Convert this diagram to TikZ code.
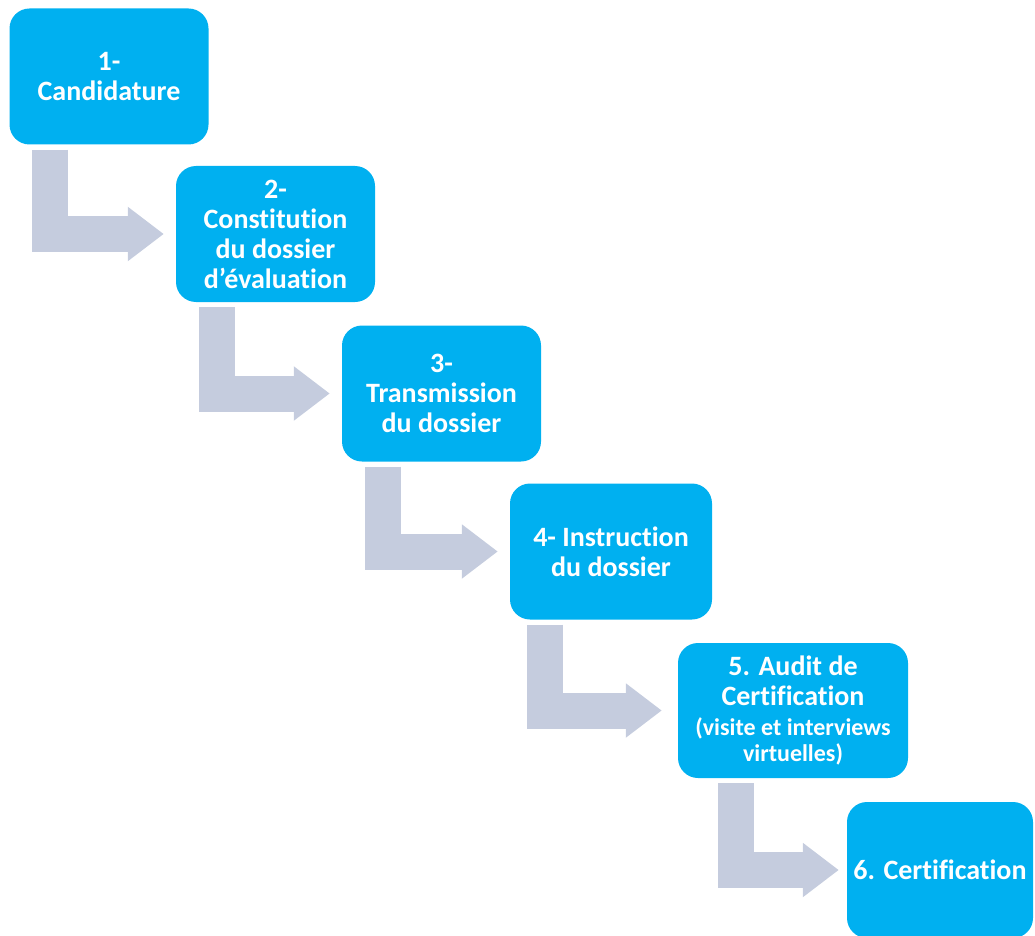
\documentclass[tikz,border=0pt]{standalone}
\usepackage{fontspec}
\setmainfont{Carlito}[Ligatures=NoCommon]
\usepackage{xcolor}
\usetikzlibrary{calc,arrows.meta}
\definecolor{phasecyan}{HTML}{00B0F0}
\definecolor{flowgrey}{HTML}{C5CCDE}

\begin{document}
\begin{tikzpicture}[x=1pt, y=-1pt,
    phase/.style={fill=phasecyan, text=white, rounded corners=20pt,
      minimum width=199pt, minimum height=136pt, inner sep=0pt, align=center,
      font=\bfseries\fontsize{28}{30}\selectfont},
    flowarrow/.style={flowgrey, line width=36pt, line join=miter,
      -{Triangle[length=36pt, width=52pt]}}]
  \useasboundingbox (0,0) rectangle (1035,936);

  % ── The six phases ──
  \node[phase] (cand) at (109, 76.5) {1-\\Candidature};
  \node[phase] (const) at (275.5, 234) {2-\\Constitution\\du dossier\\d’évaluation};
  \node[phase] (trans) at (441.5, 393.5) {3-\\Transmission\\du dossier};
  \node[phase, minimum width=202pt] (instr) at (611, 551.5) {4- Instruction\\du dossier};
  \node[phase, minimum width=230pt, minimum height=135pt] (audit) at (793, 710.5)
    {5. Audit de\\Certification\\{\fontsize{24}{26}\selectfont (visite et interviews}\\[-4pt]
     {\fontsize{24}{26}\selectfont virtuelles)}};
  \node[phase, minimum width=186pt] (certif) at (940, 870) {6. Certification};

  % ── Bent arrows between phases ──
  \draw[flowarrow] ([xshift=-59pt, yshift=-5pt]cand.south) |- ([xshift=-12pt]const.west);
  \draw[flowarrow] ([xshift=-59pt, yshift=-5pt]const.south) |- ([xshift=-12pt]trans.west);
  \draw[flowarrow] ([xshift=-59pt, yshift=-5pt]trans.south) |- ([xshift=-12pt]instr.west);
  \draw[flowarrow] ([xshift=-66pt, yshift=-5pt]instr.south) |- ([xshift=-16pt]audit.west);
  \draw[flowarrow] ([xshift=-57pt, yshift=-5pt]audit.south) |- ([xshift=-8pt]certif.west);
\end{tikzpicture}
\end{document}
